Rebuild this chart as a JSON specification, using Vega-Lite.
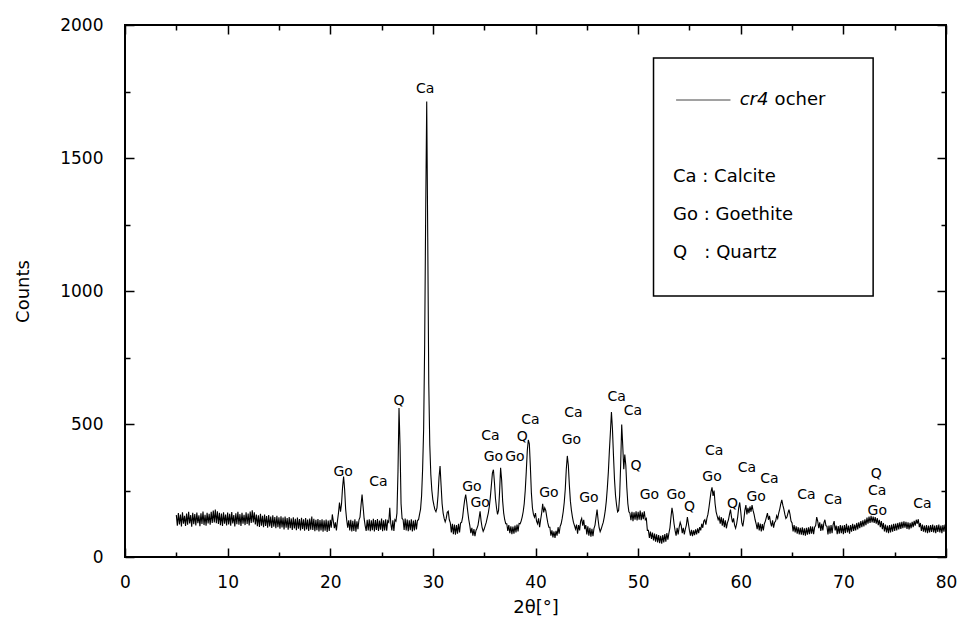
{
"$schema": "https://vega.github.io/schema/vega-lite/v6.json",
"width": 821, "height": 532,
"autosize": {"type": "none"},
"padding": {"left": 125, "top": 25, "right": 14, "bottom": 77},
"background": "white",
"config": {
 "view": {"stroke": "black", "strokeWidth": 2},
 "axis": {"domain": false, "grid": false, "tickColor": "black", "tickWidth": 1.5, "labelFont": "DejaVu Sans", "labelFontSize": 17, "labelColor": "black", "labelOverlap": false, "labelFlush": false, "titleFont": "DejaVu Sans", "titleFontSize": 18, "titleFontWeight": "normal", "titleColor": "black"},
 "text": {"font": "DejaVu Sans", "color": "black"}
},
"resolve": {"axis": {"x": "independent", "y": "independent"}},
"datasets": {
"scan": [
{"t":5.0,"c":158},{"t":5.1,"c":118},{"t":5.2,"c":165},{"t":5.3,"c":122},{"t":5.4,"c":160},{"t":5.5,"c":115},{"t":5.6,"c":168},{"t":5.7,"c":125},{"t":5.8,"c":155},{"t":5.9,"c":117},
{"t":6.0,"c":163},{"t":6.1,"c":121},{"t":6.2,"c":170},{"t":6.3,"c":126},{"t":6.4,"c":158},{"t":6.5,"c":114},{"t":6.6,"c":166},{"t":6.7,"c":123},{"t":6.8,"c":161},{"t":6.9,"c":119},
{"t":7.0,"c":167},{"t":7.1,"c":127},{"t":7.2,"c":157},{"t":7.3,"c":116},{"t":7.4,"c":164},{"t":7.5,"c":124},{"t":7.6,"c":171},{"t":7.7,"c":120},{"t":7.8,"c":159},{"t":7.9,"c":118},
{"t":8.0,"c":166},{"t":8.1,"c":126},{"t":8.2,"c":162},{"t":8.3,"c":121},{"t":8.4,"c":170},{"t":8.5,"c":128},{"t":8.6,"c":175},{"t":8.7,"c":130},{"t":8.8,"c":178},{"t":8.9,"c":127},
{"t":9.0,"c":172},{"t":9.1,"c":124},{"t":9.2,"c":166},{"t":9.3,"c":120},{"t":9.4,"c":163},{"t":9.5,"c":117},{"t":9.6,"c":168},{"t":9.7,"c":125},{"t":9.8,"c":160},{"t":9.9,"c":119},
{"t":10.0,"c":167},{"t":10.1,"c":122},{"t":10.2,"c":162},{"t":10.3,"c":118},{"t":10.4,"c":169},{"t":10.5,"c":126},{"t":10.6,"c":158},{"t":10.7,"c":115},{"t":10.8,"c":164},{"t":10.9,"c":123},
{"t":11.0,"c":170},{"t":11.1,"c":121},{"t":11.2,"c":161},{"t":11.3,"c":117},{"t":11.4,"c":166},{"t":11.5,"c":125},{"t":11.6,"c":159},{"t":11.7,"c":120},{"t":11.8,"c":168},{"t":11.9,"c":124},
{"t":12.0,"c":163},{"t":12.1,"c":119},{"t":12.2,"c":171},{"t":12.3,"c":128},{"t":12.4,"c":176},{"t":12.5,"c":130},{"t":12.6,"c":168},{"t":12.7,"c":122},{"t":12.8,"c":160},{"t":12.9,"c":116},
{"t":13.0,"c":157},{"t":13.1,"c":113},{"t":13.2,"c":162},{"t":13.3,"c":118},{"t":13.4,"c":155},{"t":13.5,"c":112},{"t":13.6,"c":160},{"t":13.7,"c":117},{"t":13.8,"c":154},{"t":13.9,"c":110},
{"t":14.0,"c":158},{"t":14.1,"c":115},{"t":14.2,"c":152},{"t":14.3,"c":109},{"t":14.4,"c":157},{"t":14.5,"c":114},{"t":14.6,"c":150},{"t":14.7,"c":108},{"t":14.8,"c":155},{"t":14.9,"c":112},
{"t":15.0,"c":149},{"t":15.1,"c":106},{"t":15.2,"c":153},{"t":15.3,"c":111},{"t":15.4,"c":148},{"t":15.5,"c":104},{"t":15.6,"c":152},{"t":15.7,"c":110},{"t":15.8,"c":146},{"t":15.9,"c":103},
{"t":16.0,"c":150},{"t":16.1,"c":108},{"t":16.2,"c":145},{"t":16.3,"c":102},{"t":16.4,"c":149},{"t":16.5,"c":107},{"t":16.6,"c":144},{"t":16.7,"c":101},{"t":16.8,"c":148},{"t":16.9,"c":106},
{"t":17.0,"c":143},{"t":17.1,"c":100},{"t":17.2,"c":147},{"t":17.3,"c":105},{"t":17.4,"c":142},{"t":17.5,"c":99},{"t":17.6,"c":146},{"t":17.7,"c":104},{"t":17.8,"c":141},{"t":17.9,"c":98},
{"t":18.0,"c":145},{"t":18.1,"c":103},{"t":18.2,"c":152},{"t":18.3,"c":102},{"t":18.4,"c":144},{"t":18.5,"c":97},{"t":18.6,"c":140},{"t":18.7,"c":101},{"t":18.8,"c":143},{"t":18.9,"c":96},
{"t":19.0,"c":139},{"t":19.1,"c":100},{"t":19.2,"c":142},{"t":19.3,"c":95},{"t":19.4,"c":138},{"t":19.5,"c":99},{"t":19.6,"c":141},{"t":19.7,"c":94},{"t":19.8,"c":137},{"t":19.9,"c":98},
{"t":20.0,"c":140},{"t":20.1,"c":110},{"t":20.2,"c":160},{"t":20.3,"c":135},{"t":20.4,"c":108},{"t":20.5,"c":130},{"t":20.6,"c":100},{"t":20.7,"c":135},{"t":20.8,"c":165},{"t":20.9,"c":205},
{"t":21.0,"c":170},{"t":21.1,"c":200},{"t":21.2,"c":262},{"t":21.3,"c":302},{"t":21.4,"c":255},{"t":21.5,"c":180},{"t":21.6,"c":140},{"t":21.7,"c":110},{"t":21.8,"c":138},{"t":21.9,"c":100},
{"t":22.0,"c":140},{"t":22.1,"c":96},{"t":22.2,"c":136},{"t":22.3,"c":98},{"t":22.4,"c":142},{"t":22.5,"c":95},{"t":22.6,"c":134},{"t":22.7,"c":105},{"t":22.8,"c":140},{"t":22.9,"c":150},
{"t":23.0,"c":195},{"t":23.1,"c":235},{"t":23.2,"c":190},{"t":23.3,"c":145},{"t":23.4,"c":118},{"t":23.5,"c":98},{"t":23.6,"c":140},{"t":23.7,"c":100},{"t":23.8,"c":142},{"t":23.9,"c":97},
{"t":24.0,"c":138},{"t":24.1,"c":101},{"t":24.2,"c":144},{"t":24.3,"c":96},{"t":24.4,"c":139},{"t":24.5,"c":102},{"t":24.6,"c":143},{"t":24.7,"c":98},{"t":24.8,"c":137},{"t":24.9,"c":103},
{"t":25.0,"c":145},{"t":25.1,"c":97},{"t":25.2,"c":138},{"t":25.3,"c":100},{"t":25.4,"c":142},{"t":25.5,"c":99},{"t":25.6,"c":136},{"t":25.7,"c":130},{"t":25.8,"c":185},{"t":25.9,"c":125},
{"t":26.0,"c":100},{"t":26.1,"c":138},{"t":26.2,"c":98},{"t":26.3,"c":140},{"t":26.4,"c":135},{"t":26.5,"c":165},{"t":26.6,"c":320},{"t":26.7,"c":560},{"t":26.8,"c":420},{"t":26.9,"c":200},
{"t":27.0,"c":145},{"t":27.1,"c":140},{"t":27.2,"c":102},{"t":27.3,"c":145},{"t":27.4,"c":100},{"t":27.5,"c":141},{"t":27.6,"c":97},{"t":27.7,"c":138},{"t":27.8,"c":101},{"t":27.9,"c":142},
{"t":28.0,"c":96},{"t":28.1,"c":137},{"t":28.2,"c":100},{"t":28.3,"c":140},{"t":28.4,"c":104},{"t":28.5,"c":138},{"t":28.6,"c":140},{"t":28.7,"c":160},{"t":28.8,"c":180},{"t":28.9,"c":230},
{"t":29.0,"c":330},{"t":29.1,"c":480},{"t":29.2,"c":800},{"t":29.3,"c":1300},{"t":29.4,"c":1712},{"t":29.5,"c":1200},{"t":29.6,"c":650},{"t":29.7,"c":420},{"t":29.8,"c":310},{"t":29.9,"c":250},
{"t":30.0,"c":215},{"t":30.1,"c":195},{"t":30.2,"c":178},{"t":30.3,"c":170},{"t":30.4,"c":185},{"t":30.5,"c":230},{"t":30.6,"c":300},{"t":30.7,"c":342},{"t":30.8,"c":270},{"t":30.9,"c":200},
{"t":31.0,"c":165},{"t":31.1,"c":145},{"t":31.2,"c":132},{"t":31.3,"c":145},{"t":31.4,"c":168},{"t":31.5,"c":172},{"t":31.6,"c":140},{"t":31.7,"c":128},{"t":31.8,"c":92},{"t":31.9,"c":125},
{"t":32.0,"c":86},{"t":32.1,"c":122},{"t":32.2,"c":84},{"t":32.3,"c":120},{"t":32.4,"c":88},{"t":32.5,"c":125},{"t":32.6,"c":92},{"t":32.7,"c":128},{"t":32.8,"c":130},{"t":32.9,"c":150},
{"t":33.0,"c":185},{"t":33.1,"c":215},{"t":33.2,"c":235},{"t":33.3,"c":205},{"t":33.4,"c":170},{"t":33.5,"c":140},{"t":33.6,"c":118},{"t":33.7,"c":90},{"t":33.8,"c":110},{"t":33.9,"c":80},
{"t":34.0,"c":105},{"t":34.1,"c":78},{"t":34.2,"c":100},{"t":34.3,"c":108},{"t":34.4,"c":120},{"t":34.5,"c":145},{"t":34.6,"c":172},{"t":34.7,"c":135},{"t":34.8,"c":110},{"t":34.9,"c":96},
{"t":35.0,"c":105},{"t":35.1,"c":118},{"t":35.2,"c":130},{"t":35.3,"c":148},{"t":35.4,"c":165},{"t":35.5,"c":190},{"t":35.6,"c":225},{"t":35.7,"c":270},{"t":35.8,"c":315},{"t":35.9,"c":328},
{"t":36.0,"c":280},{"t":36.1,"c":220},{"t":36.2,"c":185},{"t":36.3,"c":160},{"t":36.4,"c":175},{"t":36.5,"c":245},{"t":36.6,"c":335},{"t":36.7,"c":290},{"t":36.8,"c":210},{"t":36.9,"c":165},
{"t":37.0,"c":140},{"t":37.1,"c":125},{"t":37.2,"c":125},{"t":37.3,"c":98},{"t":37.4,"c":120},{"t":37.5,"c":90},{"t":37.6,"c":115},{"t":37.7,"c":86},{"t":37.8,"c":114},{"t":37.9,"c":88},
{"t":38.0,"c":118},{"t":38.1,"c":92},{"t":38.2,"c":122},{"t":38.3,"c":96},{"t":38.4,"c":126},{"t":38.5,"c":125},{"t":38.6,"c":135},{"t":38.7,"c":150},{"t":38.8,"c":170},{"t":38.9,"c":200},
{"t":39.0,"c":250},{"t":39.1,"c":320},{"t":39.2,"c":400},{"t":39.3,"c":440},{"t":39.4,"c":425},{"t":39.5,"c":340},{"t":39.6,"c":240},{"t":39.7,"c":185},{"t":39.8,"c":160},{"t":39.9,"c":150},
{"t":40.0,"c":165},{"t":40.1,"c":135},{"t":40.2,"c":125},{"t":40.3,"c":145},{"t":40.4,"c":112},{"t":40.5,"c":140},{"t":40.6,"c":165},{"t":40.7,"c":200},{"t":40.8,"c":168},{"t":40.9,"c":185},
{"t":41.0,"c":175},{"t":41.1,"c":150},{"t":41.2,"c":128},{"t":41.3,"c":112},{"t":41.4,"c":112},{"t":41.5,"c":80},{"t":41.6,"c":100},{"t":41.7,"c":74},{"t":41.8,"c":96},{"t":41.9,"c":72},
{"t":42.0,"c":98},{"t":42.1,"c":80},{"t":42.2,"c":112},{"t":42.3,"c":88},{"t":42.4,"c":115},{"t":42.5,"c":125},{"t":42.6,"c":145},{"t":42.7,"c":170},{"t":42.8,"c":205},{"t":42.9,"c":255},
{"t":43.0,"c":330},{"t":43.1,"c":380},{"t":43.2,"c":345},{"t":43.3,"c":270},{"t":43.4,"c":210},{"t":43.5,"c":175},{"t":43.6,"c":150},{"t":43.7,"c":130},{"t":43.8,"c":118},{"t":43.9,"c":105},
{"t":44.0,"c":122},{"t":44.1,"c":88},{"t":44.2,"c":120},{"t":44.3,"c":100},{"t":44.4,"c":135},{"t":44.5,"c":145},{"t":44.6,"c":118},{"t":44.7,"c":140},{"t":44.8,"c":105},{"t":44.9,"c":120},
{"t":45.0,"c":85},{"t":45.1,"c":115},{"t":45.2,"c":80},{"t":45.3,"c":110},{"t":45.4,"c":76},{"t":45.5,"c":106},{"t":45.6,"c":78},{"t":45.7,"c":108},{"t":45.8,"c":120},{"t":45.9,"c":150},
{"t":46.0,"c":178},{"t":46.1,"c":140},{"t":46.2,"c":110},{"t":46.3,"c":95},{"t":46.4,"c":105},{"t":46.5,"c":118},{"t":46.6,"c":130},{"t":46.7,"c":150},{"t":46.8,"c":175},{"t":46.9,"c":210},
{"t":47.0,"c":260},{"t":47.1,"c":320},{"t":47.2,"c":400},{"t":47.3,"c":470},{"t":47.4,"c":545},{"t":47.5,"c":480},{"t":47.6,"c":380},{"t":47.7,"c":290},{"t":47.8,"c":230},{"t":47.9,"c":195},
{"t":48.0,"c":170},{"t":48.1,"c":175},{"t":48.2,"c":230},{"t":48.3,"c":350},{"t":48.4,"c":498},{"t":48.5,"c":420},{"t":48.6,"c":330},{"t":48.7,"c":385},{"t":48.8,"c":345},{"t":48.9,"c":260},
{"t":49.0,"c":200},{"t":49.1,"c":170},{"t":49.2,"c":165},{"t":49.3,"c":138},{"t":49.4,"c":170},{"t":49.5,"c":135},{"t":49.6,"c":168},{"t":49.7,"c":140},{"t":49.8,"c":172},{"t":49.9,"c":137},
{"t":50.0,"c":170},{"t":50.1,"c":140},{"t":50.2,"c":175},{"t":50.3,"c":138},{"t":50.4,"c":168},{"t":50.5,"c":142},{"t":50.6,"c":172},{"t":50.7,"c":140},{"t":50.8,"c":145},{"t":50.9,"c":100},
{"t":51.0,"c":100},{"t":51.1,"c":72},{"t":51.2,"c":96},{"t":51.3,"c":68},{"t":51.4,"c":92},{"t":51.5,"c":62},{"t":51.6,"c":88},{"t":51.7,"c":58},{"t":51.8,"c":85},{"t":51.9,"c":55},
{"t":52.0,"c":82},{"t":52.1,"c":52},{"t":52.2,"c":80},{"t":52.3,"c":50},{"t":52.4,"c":82},{"t":52.5,"c":55},{"t":52.6,"c":86},{"t":52.7,"c":58},{"t":52.8,"c":90},{"t":52.9,"c":65},
{"t":53.0,"c":90},{"t":53.1,"c":110},{"t":53.2,"c":150},{"t":53.3,"c":185},{"t":53.4,"c":160},{"t":53.5,"c":125},{"t":53.6,"c":100},{"t":53.7,"c":80},{"t":53.8,"c":110},{"t":53.9,"c":85},
{"t":54.0,"c":112},{"t":54.1,"c":130},{"t":54.2,"c":118},{"t":54.3,"c":90},{"t":54.4,"c":110},{"t":54.5,"c":85},{"t":54.6,"c":105},{"t":54.7,"c":120},{"t":54.8,"c":150},{"t":54.9,"c":125},
{"t":55.0,"c":100},{"t":55.1,"c":80},{"t":55.2,"c":102},{"t":55.3,"c":78},{"t":55.4,"c":100},{"t":55.5,"c":82},{"t":55.6,"c":104},{"t":55.7,"c":85},{"t":55.8,"c":108},{"t":55.9,"c":90},
{"t":56.0,"c":112},{"t":56.1,"c":100},{"t":56.2,"c":125},{"t":56.3,"c":110},{"t":56.4,"c":135},{"t":56.5,"c":140},{"t":56.6,"c":122},{"t":56.7,"c":145},{"t":56.8,"c":160},{"t":56.9,"c":185},
{"t":57.0,"c":215},{"t":57.1,"c":245},{"t":57.2,"c":262},{"t":57.3,"c":230},{"t":57.4,"c":250},{"t":57.5,"c":200},{"t":57.6,"c":170},{"t":57.7,"c":155},{"t":57.8,"c":140},{"t":57.9,"c":150},
{"t":58.0,"c":125},{"t":58.1,"c":150},{"t":58.2,"c":118},{"t":58.3,"c":145},{"t":58.4,"c":112},{"t":58.5,"c":138},{"t":58.6,"c":108},{"t":58.7,"c":128},{"t":58.8,"c":140},{"t":58.9,"c":160},
{"t":59.0,"c":178},{"t":59.1,"c":150},{"t":59.2,"c":130},{"t":59.3,"c":145},{"t":59.4,"c":120},{"t":59.5,"c":108},{"t":59.6,"c":125},{"t":59.7,"c":150},{"t":59.8,"c":185},{"t":59.9,"c":205},
{"t":60.0,"c":170},{"t":60.1,"c":130},{"t":60.2,"c":115},{"t":60.3,"c":140},{"t":60.4,"c":175},{"t":60.5,"c":195},{"t":60.6,"c":160},{"t":60.7,"c":185},{"t":60.8,"c":165},{"t":60.9,"c":190},
{"t":61.0,"c":170},{"t":61.1,"c":195},{"t":61.2,"c":175},{"t":61.3,"c":160},{"t":61.4,"c":140},{"t":61.5,"c":125},{"t":61.6,"c":105},{"t":61.7,"c":130},{"t":61.8,"c":100},{"t":61.9,"c":126},
{"t":62.0,"c":96},{"t":62.1,"c":124},{"t":62.2,"c":100},{"t":62.3,"c":125},{"t":62.4,"c":135},{"t":62.5,"c":150},{"t":62.6,"c":165},{"t":62.7,"c":140},{"t":62.8,"c":155},{"t":62.9,"c":130},
{"t":63.0,"c":115},{"t":63.1,"c":138},{"t":63.2,"c":110},{"t":63.3,"c":130},{"t":63.4,"c":135},{"t":63.5,"c":155},{"t":63.6,"c":145},{"t":63.7,"c":165},{"t":63.8,"c":180},{"t":63.9,"c":200},
{"t":64.0,"c":215},{"t":64.1,"c":195},{"t":64.2,"c":180},{"t":64.3,"c":160},{"t":64.4,"c":145},{"t":64.5,"c":150},{"t":64.6,"c":165},{"t":64.7,"c":178},{"t":64.8,"c":160},{"t":64.9,"c":135},
{"t":65.0,"c":128},{"t":65.1,"c":96},{"t":65.2,"c":120},{"t":65.3,"c":92},{"t":65.4,"c":115},{"t":65.5,"c":88},{"t":65.6,"c":112},{"t":65.7,"c":85},{"t":65.8,"c":110},{"t":65.9,"c":84},
{"t":66.0,"c":112},{"t":66.1,"c":82},{"t":66.2,"c":108},{"t":66.3,"c":80},{"t":66.4,"c":110},{"t":66.5,"c":84},{"t":66.6,"c":112},{"t":66.7,"c":86},{"t":66.8,"c":115},{"t":66.9,"c":88},
{"t":67.0,"c":114},{"t":67.1,"c":86},{"t":67.2,"c":112},{"t":67.3,"c":118},{"t":67.4,"c":150},{"t":67.5,"c":135},{"t":67.6,"c":108},{"t":67.7,"c":130},{"t":67.8,"c":98},{"t":67.9,"c":125},
{"t":68.0,"c":100},{"t":68.1,"c":128},{"t":68.2,"c":140},{"t":68.3,"c":118},{"t":68.4,"c":115},{"t":68.5,"c":85},{"t":68.6,"c":118},{"t":68.7,"c":88},{"t":68.8,"c":120},{"t":68.9,"c":90},
{"t":69.0,"c":122},{"t":69.1,"c":135},{"t":69.2,"c":100},{"t":69.3,"c":118},{"t":69.4,"c":86},{"t":69.5,"c":116},{"t":69.6,"c":88},{"t":69.7,"c":120},{"t":69.8,"c":90},{"t":69.9,"c":118},
{"t":70.0,"c":86},{"t":70.1,"c":120},{"t":70.2,"c":90},{"t":70.3,"c":125},{"t":70.4,"c":92},{"t":70.5,"c":118},{"t":70.6,"c":88},{"t":70.7,"c":120},{"t":70.8,"c":95},{"t":70.9,"c":125},
{"t":71.0,"c":98},{"t":71.1,"c":122},{"t":71.2,"c":100},{"t":71.3,"c":128},{"t":71.4,"c":104},{"t":71.5,"c":130},{"t":71.6,"c":108},{"t":71.7,"c":135},{"t":71.8,"c":112},{"t":71.9,"c":138},
{"t":72.0,"c":115},{"t":72.1,"c":142},{"t":72.2,"c":120},{"t":72.3,"c":148},{"t":72.4,"c":125},{"t":72.5,"c":152},{"t":72.6,"c":128},{"t":72.7,"c":155},{"t":72.8,"c":130},{"t":72.9,"c":152},
{"t":73.0,"c":128},{"t":73.1,"c":150},{"t":73.2,"c":125},{"t":73.3,"c":146},{"t":73.4,"c":120},{"t":73.5,"c":140},{"t":73.6,"c":112},{"t":73.7,"c":135},{"t":73.8,"c":105},{"t":73.9,"c":128},
{"t":74.0,"c":96},{"t":74.1,"c":122},{"t":74.2,"c":92},{"t":74.3,"c":118},{"t":74.4,"c":90},{"t":74.5,"c":120},{"t":74.6,"c":92},{"t":74.7,"c":122},{"t":74.8,"c":95},{"t":74.9,"c":125},
{"t":75.0,"c":98},{"t":75.1,"c":126},{"t":75.2,"c":100},{"t":75.3,"c":128},{"t":75.4,"c":104},{"t":75.5,"c":130},{"t":75.6,"c":106},{"t":75.7,"c":132},{"t":75.8,"c":108},{"t":75.9,"c":134},
{"t":76.0,"c":110},{"t":76.1,"c":132},{"t":76.2,"c":106},{"t":76.3,"c":130},{"t":76.4,"c":104},{"t":76.5,"c":128},{"t":76.6,"c":108},{"t":76.7,"c":132},{"t":76.8,"c":112},{"t":76.9,"c":136},
{"t":77.0,"c":118},{"t":77.1,"c":140},{"t":77.2,"c":125},{"t":77.3,"c":142},{"t":77.4,"c":112},{"t":77.5,"c":128},{"t":77.6,"c":98},{"t":77.7,"c":122},{"t":77.8,"c":95},{"t":77.9,"c":118},
{"t":78.0,"c":92},{"t":78.1,"c":120},{"t":78.2,"c":90},{"t":78.3,"c":118},{"t":78.4,"c":92},{"t":78.5,"c":120},{"t":78.6,"c":94},{"t":78.7,"c":122},{"t":78.8,"c":92},{"t":78.9,"c":118},
{"t":79.0,"c":90},{"t":79.1,"c":120},{"t":79.2,"c":94},{"t":79.3,"c":122},{"t":79.4,"c":92},{"t":79.5,"c":118},{"t":79.6,"c":90},{"t":79.7,"c":120},{"t":79.8,"c":95},{"t":79.9,"c":122},
{"t":80.0,"c":100}
],
"peaks": [
{"t":29.24,"c":1759,"s":"Ca"},{"t":26.7,"c":585,"s":"Q"},{"t":21.25,"c":320,"s":"Go"},{"t":24.7,"c":282,"s":"Ca"},
{"t":33.8,"c":263,"s":"Go"},{"t":34.6,"c":203,"s":"Go"},{"t":35.6,"c":455,"s":"Ca"},{"t":35.9,"c":376,"s":"Go"},
{"t":38.0,"c":376,"s":"Go"},{"t":38.7,"c":451,"s":"Q"},{"t":39.5,"c":515,"s":"Ca"},{"t":41.3,"c":240,"s":"Go"},
{"t":43.7,"c":541,"s":"Ca"},{"t":43.5,"c":440,"s":"Go"},{"t":45.2,"c":222,"s":"Go"},{"t":47.9,"c":601,"s":"Ca"},
{"t":49.5,"c":549,"s":"Ca"},{"t":49.8,"c":342,"s":"Q"},{"t":51.1,"c":233,"s":"Go"},{"t":53.7,"c":233,"s":"Go"},
{"t":55.0,"c":188,"s":"Q"},{"t":57.4,"c":398,"s":"Ca"},{"t":57.2,"c":300,"s":"Go"},{"t":59.2,"c":199,"s":"Q"},
{"t":60.6,"c":335,"s":"Ca"},{"t":61.5,"c":225,"s":"Go"},{"t":62.8,"c":293,"s":"Ca"},{"t":66.4,"c":233,"s":"Ca"},
{"t":69.0,"c":214,"s":"Ca"},{"t":73.2,"c":312,"s":"Q"},{"t":73.3,"c":248,"s":"Ca"},{"t":73.3,"c":173,"s":"Go"},
{"t":77.7,"c":199,"s":"Ca"}
]
},
"layer": [
{
 "data": {"name": "scan"},
 "mark": {"type": "line", "color": "black", "strokeWidth": 1.1},
 "encoding": {
  "x": {"field": "t", "type": "quantitative", "scale": {"domain": [0, 80], "nice": false},
        "axis": {"orient": "bottom", "values": [0,10,20,30,40,50,60,70,80], "format": "d", "tickSize": -9, "labelPadding": 26, "title": "2θ[°]", "titlePadding": 8}},
  "y": {"field": "c", "type": "quantitative", "scale": {"domain": [0, 2000], "nice": false},
        "axis": {"orient": "left", "values": [0,500,1000,1500,2000], "format": "d", "tickSize": -9, "labelPadding": 31, "title": "Counts", "titlePadding": 27}}
 }
},
{
 "data": {"name": "peaks"},
 "mark": {"type": "text", "fontSize": 14, "align": "center", "baseline": "middle"},
 "encoding": {
  "x": {"field": "t", "type": "quantitative", "scale": {"domain": [0, 80], "nice": false},
        "axis": {"orient": "bottom", "values": [5,15,25,35,45,55,65,75], "tickSize": -5, "labels": false, "title": null}},
  "y": {"field": "c", "type": "quantitative", "scale": {"domain": [0, 2000], "nice": false},
        "axis": {"orient": "left", "values": [250,750,1250,1750], "tickSize": -5, "labels": false, "title": null}},
  "text": {"field": "s"}
 }
},
{
 "data": {"values": [{}]},
 "mark": {"type": "rect", "fill": "white", "stroke": "black", "strokeWidth": 1.5},
 "encoding": {
  "x": {"datum": 51.5, "type": "quantitative", "scale": {"domain": [0, 80], "nice": false},
        "axis": {"orient": "top", "values": [0,10,20,30,40,50,60,70,80], "tickSize": -9, "labels": false, "title": null}},
  "x2": {"datum": 72.9},
  "y": {"datum": 1876, "type": "quantitative", "scale": {"domain": [0, 2000], "nice": false},
        "axis": {"orient": "right", "values": [0,500,1000,1500,2000], "tickSize": -9, "labels": false, "title": null}},
  "y2": {"datum": 981}
 }
},
{
 "data": {"values": [{}]},
 "mark": {"type": "rule", "color": "#444", "strokeWidth": 1},
 "encoding": {
  "x": {"datum": 53.7, "type": "quantitative", "scale": {"domain": [0, 80], "nice": false},
        "axis": {"orient": "top", "values": [5,15,25,35,45,55,65,75], "tickSize": -5, "labels": false, "title": null}},
  "x2": {"datum": 59.0},
  "y": {"datum": 1718, "type": "quantitative", "scale": {"domain": [0, 2000], "nice": false},
        "axis": {"orient": "right", "values": [250,750,1250,1750], "tickSize": -5, "labels": false, "title": null}}
 }
},
{
 "data": {"values": [{}]},
 "mark": {"type": "text", "fontSize": 18, "fontStyle": "italic", "align": "left", "baseline": "middle", "text": "cr4"},
 "encoding": {
  "x": {"datum": 59.9, "type": "quantitative", "scale": {"domain": [0, 80], "nice": false}, "axis": null},
  "y": {"datum": 1718, "type": "quantitative", "scale": {"domain": [0, 2000], "nice": false}, "axis": null}
 }
},
{
 "data": {"values": [{}]},
 "mark": {"type": "text", "fontSize": 18, "align": "left", "baseline": "middle", "text": "ocher"},
 "encoding": {
  "x": {"datum": 63.3, "type": "quantitative", "scale": {"domain": [0, 80], "nice": false}, "axis": null},
  "y": {"datum": 1718, "type": "quantitative", "scale": {"domain": [0, 2000], "nice": false}, "axis": null}
 }
},
{
 "data": {"values": [{}]},
 "mark": {"type": "text", "fontSize": 18, "align": "left", "baseline": "middle", "text": "Ca : Calcite"},
 "encoding": {
  "x": {"datum": 53.4, "type": "quantitative", "scale": {"domain": [0, 80], "nice": false}, "axis": null},
  "y": {"datum": 1429, "type": "quantitative", "scale": {"domain": [0, 2000], "nice": false}, "axis": null}
 }
},
{
 "data": {"values": [{}]},
 "mark": {"type": "text", "fontSize": 18, "align": "left", "baseline": "middle", "text": "Go : Goethite"},
 "encoding": {
  "x": {"datum": 53.4, "type": "quantitative", "scale": {"domain": [0, 80], "nice": false}, "axis": null},
  "y": {"datum": 1286, "type": "quantitative", "scale": {"domain": [0, 2000], "nice": false}, "axis": null}
 }
},
{
 "data": {"values": [{}]},
 "mark": {"type": "text", "fontSize": 18, "align": "left", "baseline": "middle", "text": "Q\u00a0\u00a0\u00a0: Quartz"},
 "encoding": {
  "x": {"datum": 53.4, "type": "quantitative", "scale": {"domain": [0, 80], "nice": false}, "axis": null},
  "y": {"datum": 1143, "type": "quantitative", "scale": {"domain": [0, 2000], "nice": false}, "axis": null}
 }
}
]
}
